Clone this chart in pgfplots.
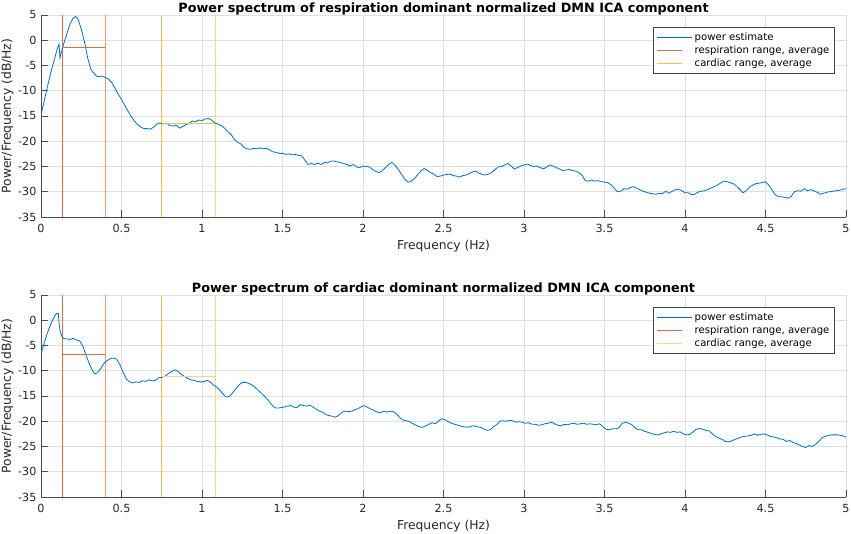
\documentclass[border=0pt]{standalone}
\usepackage{pgfplots}
\usepackage{pgfplotstable}
\pgfplotsset{compat=1.18}
\usepackage{fontspec}
\setmainfont{DejaVu Sans}
\definecolor{mblue}{rgb}{0,0.447,0.741}
\definecolor{morange}{rgb}{0.85,0.325,0.098}
\definecolor{myellow}{rgb}{0.929,0.694,0.125}
\definecolor{morangeL}{HTML}{E8997C}
\definecolor{myellowL}{HTML}{F5D58A}
\definecolor{morangeM}{HTML}{DE6E42}
\definecolor{myellowM}{HTML}{F0C050}

\pgfplotstableread{
f v
0 -14.8
0.02 -12.0
0.04 -9.2
0.06 -6.5
0.08 -4.2
0.10 -1.8
0.112 -0.8
0.118 -3.5
0.125 -2.6
0.14 -0.8
0.16 1.2
0.18 3.2
0.20 4.4
0.215 4.7
0.23 4.2
0.25 2.2
0.27 -0.3
0.29 -3.5
0.31 -5.8
0.33 -6.6
0.345 -7.1
0.36 -7.2
0.38 -7.1
0.40 -7.4
0.42 -7.7
0.44 -8.4
0.46 -9.5
0.48 -10.7
0.50 -11.7
0.52 -12.9
0.54 -14.0
0.56 -15.1
0.58 -16.0
0.60 -16.7
0.62 -17.2
0.64 -17.5
0.66 -17.5
0.68 -17.6
0.70 -17.2
0.72 -16.6
0.74 -16.4
0.76 -16.6
0.78 -16.4
0.80 -16.9
0.82 -17.0
0.84 -16.8
0.86 -17.4
0.88 -17.1
0.90 -16.7
0.92 -16.5
0.94 -16.0
0.96 -16.1
0.98 -15.8
1.00 -15.9
1.02 -15.6
1.04 -15.5
1.06 -15.8
1.08 -16.4
1.10 -16.6
1.12 -16.9
1.14 -17.4
1.16 -18.1
1.18 -18.6
1.20 -19.6
1.22 -20.2
1.24 -20.5
1.26 -21.2
1.28 -21.5
1.30 -21.6
1.32 -21.4
1.34 -21.5
1.36 -21.3
1.38 -21.5
1.40 -21.4
1.42 -21.7
1.44 -22.1
1.46 -22.2
1.48 -22.4
1.50 -22.4
1.52 -22.6
1.54 -22.5
1.56 -22.7
1.58 -22.6
1.60 -22.8
1.62 -22.9
1.64 -23.8
1.66 -24.6
1.68 -24.4
1.70 -24.6
1.72 -24.3
1.74 -24.6
1.76 -24.2
1.78 -24.3
1.80 -23.9
1.82 -23.9
1.84 -24.1
1.86 -24.2
1.88 -24.4
1.90 -24.6
1.92 -24.9
1.94 -24.6
1.96 -25.1
1.98 -25.2
2.00 -24.9
2.02 -25.0
2.04 -25.1
2.06 -25.6
2.08 -26.0
2.10 -26.2
2.12 -25.8
2.14 -25.2
2.16 -24.6
2.18 -24.2
2.20 -24.8
2.22 -25.6
2.24 -26.6
2.26 -27.5
2.28 -28.1
2.30 -27.9
2.32 -27.4
2.34 -26.6
2.36 -25.9
2.38 -25.4
2.40 -25.8
2.42 -26.2
2.44 -26.5
2.46 -27.0
2.48 -26.9
2.50 -26.7
2.52 -26.6
2.54 -26.5
2.56 -26.8
2.58 -26.9
2.60 -27.1
2.62 -26.8
2.64 -26.7
2.66 -26.4
2.68 -26.1
2.70 -25.9
2.72 -26.3
2.74 -26.6
2.76 -26.7
2.78 -26.5
2.80 -26.2
2.82 -25.6
2.84 -25.1
2.86 -25.0
2.88 -24.7
2.90 -24.4
2.92 -24.9
2.94 -25.5
2.96 -25.2
2.98 -24.9
3.00 -24.7
3.02 -24.5
3.04 -24.8
3.06 -25.0
3.08 -24.9
3.10 -25.2
3.12 -25.5
3.14 -25.1
3.16 -24.7
3.18 -24.9
3.20 -25.2
3.22 -25.5
3.24 -25.8
3.26 -25.7
3.28 -25.6
3.30 -25.8
3.32 -25.9
3.34 -26.2
3.36 -26.7
3.38 -27.8
3.40 -27.9
3.42 -27.7
3.44 -27.9
3.46 -27.8
3.48 -28.0
3.50 -28.1
3.52 -28.2
3.54 -28.6
3.56 -29.3
3.58 -30.0
3.60 -29.9
3.62 -29.4
3.64 -29.5
3.66 -29.2
3.68 -29.0
3.70 -29.3
3.72 -29.6
3.74 -29.9
3.76 -30.1
3.78 -30.3
3.80 -30.4
3.82 -30.5
3.84 -30.3
3.86 -30.4
3.88 -29.9
3.90 -30.3
3.92 -29.9
3.94 -29.6
3.96 -29.5
3.98 -29.8
4.00 -30.2
4.02 -30.2
4.04 -30.6
4.06 -30.5
4.08 -30.1
4.10 -29.9
4.12 -29.8
4.14 -29.6
4.16 -29.3
4.18 -29.0
4.20 -28.7
4.22 -28.3
4.24 -27.9
4.26 -28.0
4.28 -28.2
4.30 -28.4
4.32 -28.9
4.34 -29.5
4.36 -30.2
4.38 -29.8
4.40 -29.1
4.42 -28.7
4.44 -28.4
4.46 -28.3
4.48 -28.2
4.50 -28.0
4.52 -28.7
4.54 -29.6
4.56 -30.6
4.58 -31.0
4.60 -31.0
4.62 -31.1
4.64 -31.3
4.66 -30.9
4.68 -30.0
4.70 -29.8
4.72 -29.9
4.74 -29.4
4.76 -29.8
4.78 -29.6
4.80 -29.8
4.82 -30.1
4.84 -30.5
4.86 -30.3
4.88 -30.1
4.90 -30.0
4.92 -29.9
4.94 -29.8
4.96 -29.7
4.98 -29.5
5.00 -29.4
}\toptable

\pgfplotstableread{
f v
0 -6.7
0.02 -4.5
0.04 -2.5
0.06 -0.8
0.08 0.5
0.09 1.1
0.10 1.4
0.108 1.3
0.112 -0.5
0.12 -2.4
0.13 -3.2
0.14 -3.6
0.16 -3.7
0.18 -3.8
0.20 -3.6
0.22 -3.9
0.24 -4.1
0.26 -5.1
0.28 -7.0
0.30 -8.6
0.32 -10.0
0.335 -10.6
0.35 -10.4
0.37 -9.6
0.39 -8.6
0.41 -8.0
0.43 -7.6
0.45 -7.5
0.47 -7.7
0.49 -8.8
0.51 -10.3
0.53 -11.6
0.55 -12.2
0.57 -12.4
0.59 -12.2
0.61 -12.3
0.63 -12.0
0.65 -12.1
0.67 -11.8
0.69 -12.0
0.71 -11.9
0.73 -11.4
0.75 -11.3
0.77 -11.1
0.79 -10.6
0.81 -10.2
0.83 -9.8
0.85 -10.1
0.87 -10.7
0.89 -11.1
0.91 -11.5
0.93 -11.8
0.95 -11.9
0.97 -12.1
0.99 -12.2
1.01 -12.2
1.03 -11.9
1.05 -12.2
1.07 -12.8
1.09 -13.2
1.11 -13.8
1.13 -14.6
1.15 -15.2
1.17 -15.1
1.19 -14.4
1.21 -13.6
1.23 -12.8
1.25 -12.3
1.27 -12.3
1.29 -12.5
1.31 -12.8
1.33 -13.3
1.35 -13.9
1.37 -14.5
1.39 -15.1
1.41 -15.8
1.43 -16.6
1.45 -17.3
1.47 -17.4
1.49 -17.3
1.51 -17.2
1.53 -17.0
1.55 -16.9
1.57 -17.2
1.59 -17.3
1.61 -16.7
1.63 -16.9
1.65 -17.0
1.67 -16.8
1.69 -17.2
1.71 -17.6
1.73 -18.0
1.75 -18.2
1.77 -18.7
1.79 -18.9
1.81 -19.0
1.83 -19.2
1.85 -18.8
1.87 -18.2
1.89 -18.0
1.91 -18.1
1.93 -18.0
1.95 -17.7
1.97 -17.5
1.99 -17.1
2.01 -16.9
2.03 -17.3
2.05 -17.6
2.07 -17.9
2.09 -18.2
2.11 -18.3
2.13 -18.0
2.15 -18.2
2.17 -18.0
2.19 -18.1
2.21 -18.6
2.23 -19.3
2.25 -19.8
2.27 -19.9
2.29 -20.1
2.31 -20.5
2.33 -20.8
2.35 -21.1
2.37 -21.2
2.39 -20.9
2.41 -20.6
2.43 -20.3
2.45 -20.5
2.47 -19.9
2.49 -19.5
2.51 -19.7
2.53 -20.1
2.55 -20.4
2.57 -20.6
2.59 -20.8
2.61 -21.0
2.63 -21.1
2.65 -21.2
2.67 -21.0
2.69 -20.9
2.71 -21.1
2.73 -21.2
2.75 -21.5
2.77 -21.8
2.79 -21.7
2.81 -21.1
2.83 -20.7
2.85 -20.0
2.87 -19.9
2.89 -20.0
2.91 -19.8
2.93 -19.9
2.95 -20.2
2.97 -20.1
2.99 -20.2
3.01 -20.4
3.03 -20.3
3.05 -20.6
3.07 -20.6
3.09 -20.8
3.11 -20.7
3.13 -20.5
3.15 -20.4
3.17 -20.2
3.19 -20.5
3.21 -20.8
3.23 -20.9
3.25 -20.6
3.27 -20.7
3.29 -20.5
3.31 -20.4
3.33 -20.6
3.35 -20.5
3.37 -20.4
3.39 -20.6
3.41 -20.5
3.43 -20.6
3.45 -20.7
3.47 -20.5
3.49 -21.1
3.51 -21.6
3.53 -21.7
3.55 -21.5
3.57 -21.5
3.59 -21.3
3.61 -20.4
3.63 -20.2
3.65 -20.4
3.67 -20.7
3.69 -21.3
3.71 -21.7
3.73 -21.7
3.75 -22.0
3.77 -22.2
3.79 -22.4
3.81 -22.6
3.83 -22.7
3.85 -22.5
3.87 -22.3
3.89 -22.1
3.91 -22.2
3.93 -22.0
3.95 -22.2
3.97 -22.1
3.99 -22.5
4.01 -22.7
4.03 -22.6
4.05 -22.1
4.07 -21.6
4.09 -21.4
4.11 -21.6
4.13 -21.8
4.15 -21.9
4.17 -22.5
4.19 -23.0
4.21 -23.3
4.23 -23.6
4.25 -24.0
4.27 -24.1
4.29 -23.9
4.31 -23.6
4.33 -23.4
4.35 -23.1
4.37 -23.0
4.39 -22.9
4.41 -22.8
4.43 -22.5
4.45 -22.8
4.47 -22.6
4.49 -22.5
4.51 -22.7
4.53 -23.0
4.55 -23.1
4.57 -23.3
4.59 -23.5
4.61 -23.6
4.63 -24.0
4.65 -23.8
4.67 -24.2
4.69 -24.4
4.71 -24.7
4.73 -25.0
4.75 -25.2
4.77 -24.8
4.79 -25.0
4.81 -24.6
4.83 -24.0
4.85 -23.3
4.87 -23.0
4.89 -22.8
4.91 -22.7
4.93 -22.7
4.95 -22.7
4.97 -22.8
4.99 -23.0
5.00 -23.2
}\bottable

\pgfplotsset{
  longleg/.style={legend image code/.code={\draw[##1] (0pt,0pt) -- (35pt,0pt);}},
  shortleg/.style={legend image code/.code={\draw[##1] (0pt,0pt) -- (25pt,0pt);}},
  specstyle/.style={
    scale only axis, width=805pt, height=202pt,
    xmin=0, xmax=5, ymin=-35, ymax=5,
    xtick={0,0.5,1,1.5,2,2.5,3,3.5,4,4.5,5},
    ytick={-35,-30,-25,-20,-15,-10,-5,0,5},
    grid=major, grid style={color=black!12, line width=0.8pt},
    axis x line*=bottom, axis y line*=left,
    axis line style={color=black!70, line width=0.8pt},
    tick align=inside, major tick length=7pt,
    tick style={color=black!70, line width=0.8pt},
    tick label style={font=\fontsize{11.2}{13}\selectfont, color=black!85},
    /pgf/number format/assume math mode=true,
    xticklabel style={yshift=-4pt},
    yticklabel style={xshift=-1pt},
    xlabel={Frequency (Hz)},
    ylabel={Power/Frequency (dB/Hz)},
    label style={font=\fontsize{12.3}{14}\selectfont, color=black!85},
    xlabel style={yshift=0pt},
    ylabel style={yshift=-2pt},
    title style={font=\bfseries\fontsize{12.8}{14}\selectfont, yshift=-10pt},
    legend style={at={(0.986,0.94)}, anchor=north east,
      font=\fontsize{10.1}{12}\selectfont, draw=black!75, line width=0.7pt,
      row sep=0pt, inner xsep=3pt, inner ysep=3pt},
    legend cell align=left,
  }
}

\begin{document}
\begin{tikzpicture}
\path[use as bounding box] (0pt,0pt) rectangle (851pt,534pt);
\begin{axis}[specstyle, at={(41pt,317pt)}, anchor=south west,
  title={Power spectrum of respiration dominant normalized DMN ICA component}]
\addplot[forget plot, draw=morangeM, line width=1pt] coordinates {(0.133,-35) (0.133,5)};
\addplot[forget plot, draw=morangeL, line width=1pt] coordinates {(0.4,-35) (0.4,5)};
\addplot[forget plot, draw=myellowM, line width=1pt] coordinates {(0.75,-35) (0.75,5)};
\addplot[forget plot, draw=myellowL, line width=1pt] coordinates {(1.083,-35) (1.083,5)};
\addplot[draw=mblue, line width=0.8pt, longleg] table[x=f, y=v] {\toptable};
\addlegendentry{power estimate}
\addplot[draw=morangeM, line width=1pt, shortleg] coordinates {(0.133,-1.5) (0.4,-1.5)};
\addlegendentry{respiration range, average}
\addplot[draw=myellowM, line width=1pt, shortleg] coordinates {(0.75,-16.5) (1.083,-16.5)};
\addlegendentry{cardiac range, average}
\end{axis}
\begin{axis}[specstyle, at={(41pt,37pt)}, anchor=south west,
  title={Power spectrum of cardiac dominant normalized DMN ICA component}]
\addplot[forget plot, draw=morangeM, line width=1pt] coordinates {(0.133,-35) (0.133,5)};
\addplot[forget plot, draw=morangeL, line width=1pt] coordinates {(0.4,-35) (0.4,5)};
\addplot[forget plot, draw=myellowM, line width=1pt] coordinates {(0.75,-35) (0.75,5)};
\addplot[forget plot, draw=myellowL, line width=1pt] coordinates {(1.083,-35) (1.083,5)};
\addplot[draw=mblue, line width=0.8pt, longleg] table[x=f, y=v] {\bottable};
\addlegendentry{power estimate}
\addplot[draw=morangeM, line width=1pt, shortleg] coordinates {(0.133,-6.7) (0.4,-6.7)};
\addlegendentry{respiration range, average}
\addplot[draw=myellowL, line width=1pt, shortleg] coordinates {(0.75,-11.2) (1.083,-11.2)};
\addlegendentry{cardiac range, average}
\end{axis}
\end{tikzpicture}
\end{document}
